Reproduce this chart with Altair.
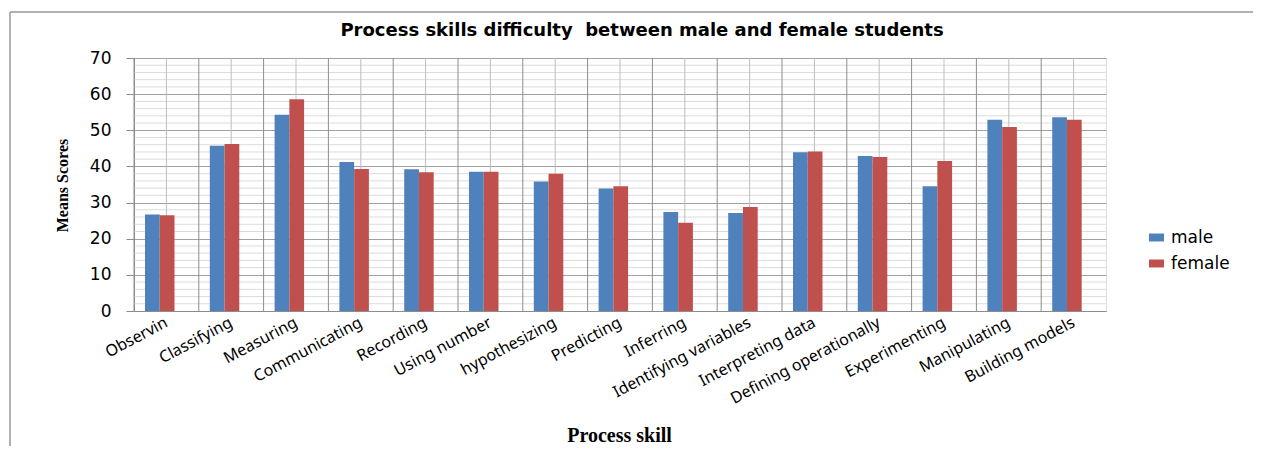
import altair as alt
import pandas as pd

skills = ["Observin", "Classifying", "Measuring", "Communicating", "Recording",
          "Using number", "hypothesizing", "Predicting", "Inferring",
          "Identifying variables", "Interpreting data", "Defining operationally",
          "Experimenting", "Manipulating", "Building models"]
male = [26.7, 45.7, 54.3, 41.2, 39.2, 38.5, 35.8, 33.9, 27.4, 27.1, 43.9, 42.9, 34.5, 52.9, 53.6]
female = [26.5, 46.2, 58.6, 39.3, 38.4, 38.5, 38.0, 34.5, 24.4, 28.8, 44.1, 42.6, 41.5, 50.9, 52.9]
series = ["male", "female"]
colors = ["#4F81BD", "#C0504D"]
major_ticks = [0, 10, 20, 30, 40, 50, 60, 70]
minor_ticks = [v for v in range(2, 70, 2) if v % 10 != 0]

rows = []
for i, s in enumerate(skills):
    rows.append({"skill": s, "sex": "male", "value": male[i]})
    rows.append({"skill": s, "sex": "female", "value": female[i]})
df = pd.DataFrame(rows)
cats = pd.DataFrame({"skill": skills})
minor_df = pd.DataFrame({"value": minor_ticks})
one = pd.DataFrame({"a": [0]})

W, H = 972, 253

xscale = alt.Scale(domain=skills, paddingInner=0, paddingOuter=0)
yscale = alt.Scale(domain=[0, 70], nice=False)

x_axis = alt.Axis(title="Process skill", labelAngle=-28, labelAlign="right",
                  labelBaseline="middle", labelPadding=10, labelFont="Noto Sans",
                  labelFontSize=16, labelColor="#000", ticks=False,
                  domainColor="#8c8c8c", grid=False, labelOverlap=False,
                  titleFont="Liberation Serif", titleFontSize=20,
                  titleFontWeight="bold", titleColor="#000",
                  titleX=485, titleY=124, titleBaseline="middle")
y_axis = alt.Axis(values=major_ticks, grid=True, gridColor="#a0a0a0",
                  domainColor="#8c8c8c", tickColor="#8c8c8c", tickSize=8,
                  labelFont="DejaVu Sans", labelFontSize=17, labelColor="#000",
                  labelPadding=15, title="Means Scores",
                  titleFont="Liberation Serif", titleFontSize=16,
                  titleFontWeight="bold", titleColor="#000",
                  titleX=-72, titleY=127, titleAngle=-90,
                  titleAlign="center", titleBaseline="middle")

minor = alt.Chart(minor_df).mark_rule(color="#dcdcdc", strokeWidth=1).encode(
    y=alt.Y("value:Q", scale=yscale, axis=y_axis)
)

centers = alt.Chart(cats).mark_rule(color="#bdbdbd", strokeWidth=1).encode(
    x=alt.X("skill:N", scale=xscale, sort=skills, axis=x_axis)
)

bounds = alt.Chart(cats).mark_rule(color="#8c8c8c", strokeWidth=1).encode(
    x=alt.X("skill:N", scale=xscale, sort=skills, bandPosition=0, axis=x_axis)
)

bars = alt.Chart(df).mark_bar().encode(
    x=alt.X("skill:N", scale=xscale, sort=skills, axis=x_axis),
    xOffset=alt.XOffset("sex:N", sort=series,
                        scale=alt.Scale(domain=series, paddingInner=0, paddingOuter=0,
                                        range=[11, 40.5])),
    y=alt.Y("value:Q", scale=yscale, axis=y_axis),
    color=alt.Color("sex:N", sort=series,
                    scale=alt.Scale(domain=series, range=colors),
                    legend=alt.Legend(title=None, orient="none", legendX=1014, legendY=171,
                                      symbolType="M-1,-0.53H1V0.53H-1Z", symbolSize=225,
                                      symbolStrokeWidth=0, labelFont="DejaVu Sans",
                                      labelFontSize=17, labelColor="#000", rowPadding=8,
                                      labelOffset=6)),
)

frame_left = alt.Chart(one).mark_rule(color="#999999", strokeWidth=1.5).encode(
    x=alt.value(-124), y=alt.value(-46), y2=alt.value(400)
)
frame_top = alt.Chart(one).mark_rule(color="#999999", strokeWidth=1.5).encode(
    x=alt.value(-124), x2=alt.value(1130), y=alt.value(-46)
)

chart = alt.layer(minor, centers, bounds, bars, frame_left, frame_top).properties(
    width=W, height=H,
    title=alt.TitleParams("Process skills difficulty\u00a0 between male and female students",
                          font="DejaVu Sans", fontSize=18, fontWeight="bold", color="#000",
                          anchor="middle", dx=22, offset=-29),
    autosize=alt.AutoSizeParams(type="none"),
    padding={"left": 126, "top": 50, "right": 147, "bottom": 135},
).configure_view(stroke="#8c8c8c", strokeWidth=1).configure(background="white")

chart.save("out.html", embed_options={"renderer": "svg", "actions": False})
